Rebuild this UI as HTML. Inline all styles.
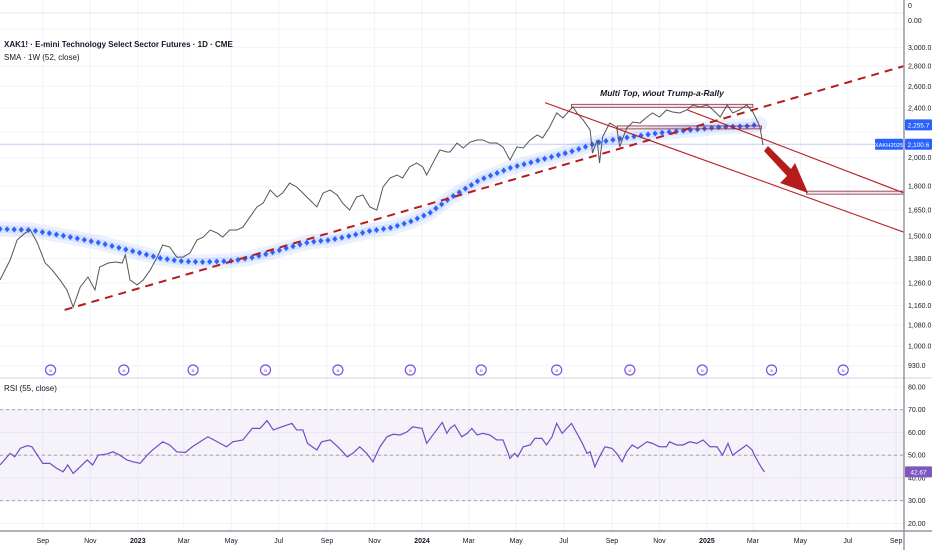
<!DOCTYPE html>
<html><head><meta charset="utf-8">
<style>
html,body{margin:0;padding:0;background:#fff;}
svg{display:block;font-family:"Liberation Sans",sans-serif;}
</style></head>
<body>
<svg id="chart" width="932" height="550" viewBox="0 0 932 550" xmlns="http://www.w3.org/2000/svg">
<rect x="0" y="0" width="932" height="550" fill="#ffffff"/>
<g id="grid"></g>
<g id="main"></g>
<g id="rsi"></g>
<g id="axes"></g>
<text x="4" y="47" font-size="8" font-weight="bold" fill="#131722">XAK1! · E-mini Technology Select Sector Futures · 1D · CME</text>
<text x="4" y="60" font-size="8" fill="#131722">SMA · 1W (52, close)</text>
<text x="4" y="391" font-size="8" fill="#131722">RSI (55, close)</text>
</svg>
<script>
// ---- data (days since 2022-07-01) ----
const priceDays=[7,20,29,39,46,55,65,74,84,93,101,110,120,129,135,146,155,164,168,174,183,191,200,209,216,225,234,242,251,260,268,277,286,293,302,311,319,328,337,345,354,363,370,379,388,396,405,414,422,431,440,447,456,465,473,482,491,499,508,517,524,533,542,550,555,563,572,581,585,594,602,611,620,627,636,645,653,662,671,679,688,697,704,713,722,730,739,743,748,756,765,768,774,777,781,790,799,803,807,812,820,829,838,845,854,863,871,880,889,897,906,915,923,932,941,948,957,966,974,979,983,987];
const priceValues=[1275,1372,1477,1515,1532,1461,1357,1323,1275,1229,1154,1242,1289,1229,1337,1357,1362,1357,1398,1275,1252,1275,1323,1387,1450,1439,1387,1387,1408,1477,1493,1532,1515,1493,1532,1532,1549,1607,1668,1692,1775,1730,1756,1821,1795,1756,1711,1668,1756,1775,1743,1692,1649,1730,1743,1668,1649,1795,1855,1876,1855,1932,1961,1932,1876,1961,2057,2042,2042,2110,2072,2118,2134,2134,2110,2110,2080,1982,2080,2072,2134,2174,2150,2238,2357,2314,2383,2409,2357,2297,2213,2034,2134,1961,2157,2271,2238,2080,2150,2230,2280,2271,2322,2357,2322,2383,2365,2357,2383,2427,2409,2427,2383,2322,2427,2357,2383,2427,2365,2297,2238,2095];
const smaDays=[7,46,84,135,187,212,238,264,302,328,354,379,405,431,456,482,508,533,559,585,623,662,700,739,777,816,854,893,932,970,983];
const smaValues=[1538,1532,1504,1461,1408,1382,1367,1362,1367,1382,1408,1439,1466,1477,1499,1527,1544,1578,1631,1724,1842,1925,1982,2042,2118,2157,2190,2213,2238,2247,2263];
const rsiDays=[7,20,26,33,42,48,55,62,71,80,88,94,101,110,119,126,133,144,152,161,170,178,187,196,203,216,225,234,245,254,264,274,286,298,306,319,331,341,350,358,369,382,388,396,402,414,420,431,441,453,460,469,478,486,495,504,512,521,530,537,549,555,563,575,581,585,591,600,607,613,620,627,636,645,653,659,662,668,672,679,688,694,703,709,716,722,729,735,741,748,754,761,765,771,777,784,793,799,806,812,819,826,838,845,854,863,867,876,884,893,902,910,919,928,935,942,948,957,966,973,976,983,987,989];
const rsiValues=[45.7,50.8,49.3,53,54.2,53.7,50,46.4,46.4,44.2,42.7,45.7,42,44.9,47.9,45.7,50,50.5,51.5,50,47.9,47.1,46.4,50,52.3,55.9,54.5,51.5,51.2,53.7,55.9,58.1,55.9,53.7,55.9,56.7,61.8,61.8,65.2,61.1,62.5,64,61.1,61.1,55.2,52.3,55.9,56.7,53.7,49.3,50.8,53.7,50.8,47.1,53.7,58.1,59.2,58.9,60.3,62.5,61.8,55.2,58.9,64.4,59.6,61.8,63.3,58.1,59.6,61.8,58.9,59.6,58.9,56.7,56.7,51.5,48.6,50.8,49.3,53.7,54.5,57.4,57.4,54.5,58.1,64,59.6,61.8,64,59.6,55.9,50.8,51.5,44.9,49.3,53.7,53,50.8,47.1,51.5,54.5,53,55.9,55.2,53.7,53.7,55.9,54.5,54.5,55.9,55.2,56.7,53.7,53.7,50,55.2,50,52.3,54.5,52.3,50,45.7,43.5,42.67];
const priceTicks=[3000,2800,2600,2400,2000,1800,1650,1500,1380,1260,1160,1080,1000,930];
const rsiTicks=[80,70,60,50,40,30,20];
const monthLabels=["Sep","Nov","2023","Mar","May","Jul","Sep","Nov","2024","Mar","May","Jul","Sep","Nov","2025","Mar","May","Jul","Sep"];
const monthDays=[62,123,184,243,304,365,427,488,549,609,670,731,793,854,915,974,1035,1096,1158];
const eventDays=[72,166,255,348,441,534,625,722,816,909,998,1090];
const lastPrice=2100.6, lastSma=2255.7, lastRsi=42.67;
// drawings: [day, price]
const trendSupport=[[90,1142],[1168,2801]];
const channelLower=[[707,2448],[1168,1520]];
const channelUpper=[[890,2383],[1168,1756]];
const topZone=[[741,2420],[974,2420]];
const neckZone=[[800,2235],[985,2235]];
const targetZone=[[1043,1758],[1168,1758]];

// ---- scales ----
const X=d=>(d-7)/1.2844;
const Y=p=>346-271.8*Math.log(p/1000);
const R=v=>409.7+(70-v)*2.275;
const NS="http://www.w3.org/2000/svg";
function mk(tag,parent,attrs){const e=document.createElementNS(NS,tag);for(const k in attrs)e.setAttribute(k,attrs[k]);parent.appendChild(e);return e;}
const grid=document.getElementById('grid'),main=document.getElementById('main'),rsi=document.getElementById('rsi'),axes=document.getElementById('axes');

// grid
monthDays.forEach(d=>{const l=mk('line',grid,{x1:X(d),x2:X(d),y1:0,y2:531,stroke:'#f0f3fa','stroke-width':1});

});
priceTicks.concat([2200]).forEach(p=>{const l=mk('line',grid,{x1:0,x2:904,y1:Y(p),y2:Y(p),stroke:'#f0f3fa','stroke-width':1});

});
rsiTicks.forEach(v=>{const l=mk('line',grid,{x1:0,x2:904,y1:R(v),y2:R(v),stroke:'#f0f3fa','stroke-width':1});

});
mk('line',grid,{x1:0,x2:904,y1:13,y2:13,stroke:'#e6e8ee'});
mk('line',grid,{x1:0,x2:904,y1:29,y2:29,stroke:'#f0f3fa'});

// last price line
const pl=mk('line',main,{x1:0,x2:904,y1:Y(lastPrice),y2:Y(lastPrice),stroke:'#c3cdf3','stroke-width':1});



// SMA glow + diamonds
const smaPts=smaDays.map((d,i)=>[X(d),Y(smaValues[i])]);
const smaPath=mk('polyline',main,{points:smaPts.map(p=>p.join(',')).join(' '),fill:'none',stroke:'rgba(41,98,255,0.09)','stroke-width':15,'stroke-linejoin':'round','stroke-linecap':'round'});


const smaLine=mk('polyline',main,{points:smaPts.map(p=>p.join(',')).join(' '),fill:'none',stroke:'rgba(41,98,255,0.10)','stroke-width':8,'stroke-linejoin':'round'});



function seg(arr,attrs,name){const l=mk('line',main,Object.assign({x1:X(arr[0][0]),y1:Y(arr[0][1]),x2:X(arr[1][0]),y2:Y(arr[1][1])},attrs));

return l;}

// diamonds along SMA
const total=smaPath.getTotalLength();
const dg=mk('g',main,{});


for(let s=0;s<=total;s+=7.1){const p=smaPath.getPointAtLength(s);
const dm=mk('polygon',dg,{points:`${p.x},${p.y-3} ${p.x+2.6},${p.y} ${p.x},${p.y+3} ${p.x-2.6},${p.y}`,fill:'#2962ff'});

}

seg(trendSupport,{stroke:'#b71c1c','stroke-width':2,'stroke-dasharray':'8,6'},'support-trendline');

// price line
const pp=mk('polyline',main,{points:priceDays.map((d,i)=>X(d)+','+Y(priceValues[i])).join(' '),fill:'none',stroke:'#555555','stroke-width':1,'stroke-linejoin':'miter'});



// channel
seg(channelLower,{stroke:'#b71c1c','stroke-width':1.1},'channel-lower-line');
seg(channelUpper,{stroke:'#b71c1c','stroke-width':1.1},'channel-upper-line');
function zone(arr,name){const x1=X(arr[0][0]),x2=X(arr[1][0]),y=Y(arr[0][1]);
const r=mk('rect',main,{x:x1,y:y-1.5,width:x2-x1,height:3,fill:'rgba(156,39,176,0.12)',stroke:'#8e2a2a','stroke-width':0.8});

}
zone(topZone,'multi-top-zone');
zone(neckZone,'neckline-zone');
zone(targetZone,'target-zone');
const t=mk('text',main,{x:662,y:96,'font-size':8.5,'font-style':'italic','font-weight':'bold','text-anchor':'middle',fill:'#131722'});
t.textContent='Multi Top, w\\out Trump-a-Rally';


const ar=mk('polygon',main,{points:'764,151 768,146 791,169 795,163 808,193 780,183 787,176',fill:'#b71c1c'});



// events
eventDays.forEach(d=>{const g=mk('g',main,{});


mk('circle',g,{cx:X(d),cy:370,r:5,fill:'#fff',stroke:'#7b4fe0','stroke-width':1.2});
const tx=mk('text',g,{x:X(d),y:372.5,'font-size':6,'text-anchor':'middle',fill:'#7b4fe0'});tx.textContent='»';});

// dividers
mk('line',axes,{x1:0,x2:932,y1:378,y2:378,stroke:'#d1d4dc'});
mk('line',axes,{x1:0,x2:932,y1:531,y2:531,stroke:'#9598a1','stroke-width':1.5});
mk('line',axes,{x1:904,x2:904,y1:0,y2:550,stroke:'#9598a1','stroke-width':1.5});

// RSI
const band=mk('rect',rsi,{x:0,y:R(70),width:904,height:R(30)-R(70),fill:'rgba(126,87,194,0.08)'});


[70,50,30].forEach(v=>{const l=mk('line',rsi,{x1:0,x2:904,y1:R(v),y2:R(v),stroke:'#9598a1','stroke-width':0.8,'stroke-dasharray':'3,3'});

});
const rl=mk('polyline',rsi,{points:rsiDays.map((d,i)=>X(d)+','+R(rsiValues[i])).join(' '),fill:'none',stroke:'#6c4fc4','stroke-width':1.2});



// axis labels
const fmt=v=>v.toLocaleString('en-US',{minimumFractionDigits:1,maximumFractionDigits:1});
priceTicks.forEach(p=>{const tx=mk('text',axes,{x:908,y:Y(p)+2.5,'font-size':7,fill:'#131722'});tx.textContent=fmt(p);

});
rsiTicks.forEach(v=>{const tx=mk('text',axes,{x:908,y:R(v)+2.5,'font-size':7,fill:'#131722'});tx.textContent=v.toFixed(2);

});
const z1=mk('text',axes,{x:908,y:8,'font-size':7,fill:'#131722'});z1.textContent='0';
const z2=mk('text',axes,{x:908,y:23,'font-size':7,fill:'#131722'});z2.textContent='0.00';
monthLabels.forEach((m,i)=>{const tx=mk('text',axes,{x:X(monthDays[i]),y:543,'font-size':7,'text-anchor':'middle',fill:'#131722','font-weight':/^\d/.test(m)?'bold':'normal'});tx.textContent=m;

});
function badge(y,txt,color,name,x,w,fs){const g=mk('g',axes,{});


mk('rect',g,{x:x,y:y-5.5,width:w,height:11,fill:color,rx:1});
const tx=mk('text',g,{x:x+w/2,y:y+2.5,'font-size':fs||6.5,fill:'#fff','text-anchor':'middle'});tx.textContent=txt;}
badge(Y(lastSma),fmt(lastSma),'#2962ff','sma-value-badge',905,27);
badge(Y(lastPrice),fmt(lastPrice),'#2962ff','price-value-badge',905,27);
badge(Y(lastPrice),'XAKH2025','#2962ff','symbol-badge',875,28,5.8);
badge(R(lastRsi),lastRsi.toFixed(2),'#7e57c2','rsi-value-badge',905,27);
</script>
</body></html>
